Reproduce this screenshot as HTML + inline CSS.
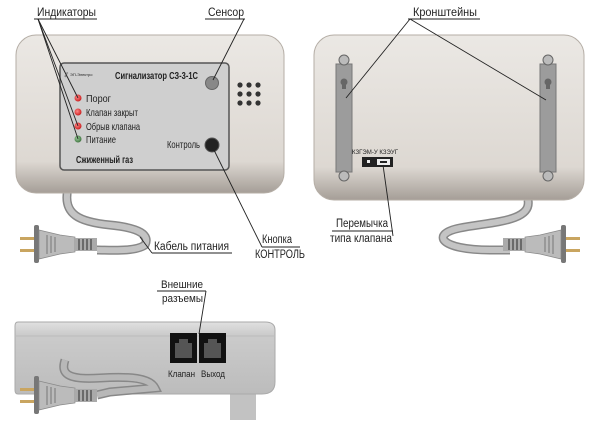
<!DOCTYPE html>
<html><head><meta charset="utf-8"><style>
html,body{margin:0;padding:0;background:#fff;width:600px;height:425px;overflow:hidden}
svg{display:block}
text{font-family:"Liberation Sans",sans-serif;fill:#222}
</style></head><body>
<svg width="600" height="425" viewBox="0 0 600 425" xmlns="http://www.w3.org/2000/svg">
<defs>
<linearGradient id="bd" x1="0" y1="0" x2="0" y2="1"><stop offset="0" stop-color="#ebe8e4"/><stop offset="0.8" stop-color="#ddd8d2"/><stop offset="1" stop-color="#a59e97"/></linearGradient>
<linearGradient id="sd" x1="0" y1="0" x2="0" y2="1"><stop offset="0" stop-color="#e0e0e0"/><stop offset="0.18" stop-color="#cbcbcb"/><stop offset="1" stop-color="#bcbcbc"/></linearGradient>
<radialGradient id="red" cx="0.4" cy="0.4" r="0.6"><stop offset="0" stop-color="#f88"/><stop offset="1" stop-color="#c22"/></radialGradient>
<radialGradient id="grn" cx="0.4" cy="0.4" r="0.6"><stop offset="0" stop-color="#9c9"/><stop offset="1" stop-color="#474"/></radialGradient>
<g id="plugL">
<rect x="20" y="0" width="14" height="3" fill="#c9a560"/><rect x="20" y="12" width="14" height="3" fill="#c9a560"/>
<rect x="34" y="-12" width="5" height="38" rx="2" fill="#777"/>
<path d="M39 -7 L60 -2 L75 0 L75 15 L60 17 L39 22 Z" fill="#bbb" stroke="#888" stroke-width="0.7"/>
<line x1="47" y1="-2" x2="47" y2="17" stroke="#777"/><line x1="51" y1="-1" x2="51" y2="16" stroke="#777"/><line x1="55" y1="0" x2="55" y2="15" stroke="#777"/>
<rect x="75" y="1" width="22" height="13" fill="#aaa"/>
<g stroke="#555" stroke-width="1.5"><line x1="79" y1="2" x2="79" y2="13"/><line x1="83" y1="2" x2="83" y2="13"/><line x1="87" y1="2" x2="87" y2="13"/><line x1="91" y1="2" x2="91" y2="13"/></g>
</g>
</defs>

<path d="M68 188 C62 215 80 222 110 225 C140 228 150 235 145 245 C135 252 110 250 97 250" fill="none" stroke="#888" stroke-width="9"/>
<path d="M68 188 C62 215 80 222 110 225 C140 228 150 235 145 245 C135 252 110 250 97 250" fill="none" stroke="#c4c4c4" stroke-width="6"/>
<use href="#plugL" transform="translate(0,237)"/>
<rect x="16" y="35" width="268" height="158" rx="20" fill="url(#bd)" stroke="#b5aea6"/>
<rect x="60" y="63" width="169" height="107" rx="4" fill="#cfcfcf" stroke="#555" stroke-width="1.5"/>
<text x="64" y="77" font-size="6" font-style="italic">ℰ</text><text x="70" y="76" font-size="4" fill="#666">ЭП-Электро</text>
<text x="115" y="79" font-size="10.5" font-weight="bold" textLength="83" lengthAdjust="spacingAndGlyphs">Сигнализатор СЗ-3-1С</text>
<circle cx="212" cy="83" r="6.5" fill="#888" stroke="#666"/>
<g fill="#333"><circle cx="240" cy="85" r="2.6"/><circle cx="249" cy="85" r="2.6"/><circle cx="258" cy="85" r="2.6"/><circle cx="240" cy="94" r="2.6"/><circle cx="249" cy="94" r="2.6"/><circle cx="258" cy="94" r="2.6"/><circle cx="240" cy="103" r="2.6"/><circle cx="249" cy="103" r="2.6"/><circle cx="258" cy="103" r="2.6"/></g>
<circle cx="78" cy="98" r="3.5" fill="url(#red)"/><circle cx="78" cy="112" r="3.5" fill="url(#red)"/><circle cx="78" cy="126" r="3.5" fill="url(#red)"/><circle cx="78" cy="139" r="3.5" fill="url(#grn)"/>
<g font-size="10.5"><text x="86" y="102" textLength="25" lengthAdjust="spacingAndGlyphs">Порог</text><text x="86" y="116" textLength="52" lengthAdjust="spacingAndGlyphs">Клапан закрыт</text><text x="86" y="130" textLength="54" lengthAdjust="spacingAndGlyphs">Обрыв клапана</text><text x="86" y="143" textLength="30" lengthAdjust="spacingAndGlyphs">Питание</text><text x="167" y="148" textLength="33" lengthAdjust="spacingAndGlyphs">Контроль</text></g>
<text x="76" y="163" font-size="10.5" font-weight="bold" textLength="57" lengthAdjust="spacingAndGlyphs">Сжиженный газ</text>
<circle cx="212" cy="145" r="7" fill="#222" stroke="#555"/>
<text x="37" y="16" font-size="11.5" textLength="59" lengthAdjust="spacingAndGlyphs">Индикаторы</text><line x1="34" y1="19" x2="97" y2="19" stroke="#222"/>
<g stroke="#222" stroke-width="0.9" fill="none"><line x1="38" y1="19" x2="78" y2="98"/><line x1="38" y1="19" x2="78" y2="126"/><line x1="38" y1="19" x2="78" y2="139"/>
<line x1="244" y1="19" x2="213" y2="80"/><line x1="212" y1="146" x2="262" y2="247"/><line x1="140" y1="237" x2="152" y2="253"/></g>
<text x="208" y="16" font-size="11.5" textLength="36" lengthAdjust="spacingAndGlyphs">Сенсор</text><line x1="205" y1="19" x2="245" y2="19" stroke="#222"/>
<text x="262" y="243" font-size="11.5" textLength="30" lengthAdjust="spacingAndGlyphs">Кнопка</text><line x1="262" y1="247" x2="300" y2="247" stroke="#222"/>
<text x="255" y="258" font-size="11.5" textLength="50" lengthAdjust="spacingAndGlyphs">КОНТРОЛЬ</text>
<text x="154" y="250" font-size="11.5" textLength="75" lengthAdjust="spacingAndGlyphs">Кабель питания</text><line x1="152" y1="253" x2="232" y2="253" stroke="#222"/>

<path d="M528 200 C532 222 490 222 460 228 C430 234 440 250 490 250 L510 250" fill="none" stroke="#888" stroke-width="9"/>
<path d="M528 200 C532 222 490 222 460 228 C430 234 440 250 490 250 L510 250" fill="none" stroke="#c4c4c4" stroke-width="6"/>
<use href="#plugL" transform="translate(600,237) scale(-1,1)"/>
<rect x="314" y="35" width="270" height="165" rx="20" fill="url(#bd)" stroke="#b5aea6"/>
<rect x="336" y="64" width="16" height="108" fill="#9c9c9c" stroke="#777"/>
<rect x="540" y="64" width="16" height="108" fill="#9c9c9c" stroke="#777"/>
<g fill="#bbb" stroke="#666"><circle cx="344" cy="60" r="5"/><circle cx="344" cy="176" r="5"/><circle cx="548" cy="60" r="5"/><circle cx="548" cy="176" r="5"/></g>
<g fill="#666"><circle cx="344" cy="82" r="3.5"/><rect x="342" y="82" width="4" height="7"/><circle cx="548" cy="82" r="3.5"/><rect x="546" y="82" width="4" height="7"/></g>
<text x="352" y="154" font-size="6" textLength="46" lengthAdjust="spacingAndGlyphs">КЗГЭМ-У  КЗЭУГ</text>
<rect x="362" y="157" width="31" height="10" fill="#222"/><rect x="367" y="160" width="3" height="3" fill="#eee"/><rect x="377" y="159" width="13" height="6" fill="#eee"/><rect x="380" y="161" width="7" height="2" fill="#222"/>
<g stroke="#222" stroke-width="0.9" fill="none"><line x1="410" y1="19" x2="346" y2="98"/><line x1="410" y1="19" x2="546" y2="100"/><line x1="383" y1="165" x2="393" y2="236"/></g>
<text x="413" y="16" font-size="11.5" textLength="64" lengthAdjust="spacingAndGlyphs">Кронштейны</text><line x1="408" y1="19" x2="480" y2="19" stroke="#222"/>
<text x="336" y="227" font-size="11.5" textLength="52" lengthAdjust="spacingAndGlyphs">Перемычка</text><line x1="332" y1="231" x2="393" y2="231" stroke="#222"/>
<text x="330" y="242" font-size="11.5" textLength="62" lengthAdjust="spacingAndGlyphs">типа клапана</text>

<rect x="230" y="385" width="26" height="35" fill="#c2c2c2"/>
<path d="M18 322 L265 322 Q275 322 275 330 L275 382 Q275 394 262 394 L18 394 Q15 394 15 390 L15 326 Q15 322 18 322 Z" fill="url(#sd)" stroke="#aaa"/>
<line x1="15" y1="336" x2="275" y2="336" stroke="#bbb"/>
<path d="M65 360 C60 375 70 380 100 378 C130 376 150 378 155 388 L110 392 L97 395" fill="none" stroke="#888" stroke-width="9"/>
<path d="M65 360 C60 375 70 380 100 378 C130 376 150 378 155 388 L110 392 L97 395" fill="none" stroke="#b8b8b8" stroke-width="6"/>
<use href="#plugL" transform="translate(0,388)"/>
<rect x="170" y="333" width="27" height="30" fill="#111"/><rect x="199" y="333" width="27" height="30" fill="#111"/>
<path d="M175 358 L175 343 L179 343 L179 339 L188 339 L188 343 L192 343 L192 358 Z" fill="#555"/>
<path d="M204 358 L204 343 L208 343 L208 339 L217 339 L217 343 L221 343 L221 358 Z" fill="#555"/>
<text x="168" y="377" font-size="9.5" textLength="27" lengthAdjust="spacingAndGlyphs">Клапан</text><text x="201" y="377" font-size="9.5" textLength="24" lengthAdjust="spacingAndGlyphs">Выход</text>
<text x="161" y="288" font-size="11" textLength="42" lengthAdjust="spacingAndGlyphs">Внешние</text><line x1="157" y1="291" x2="206" y2="291" stroke="#222"/>
<text x="162" y="302" font-size="11" textLength="41" lengthAdjust="spacingAndGlyphs">разъемы</text>
<line x1="206" y1="291" x2="199" y2="334" stroke="#222" stroke-width="0.9"/>
</svg>
</body></html>
